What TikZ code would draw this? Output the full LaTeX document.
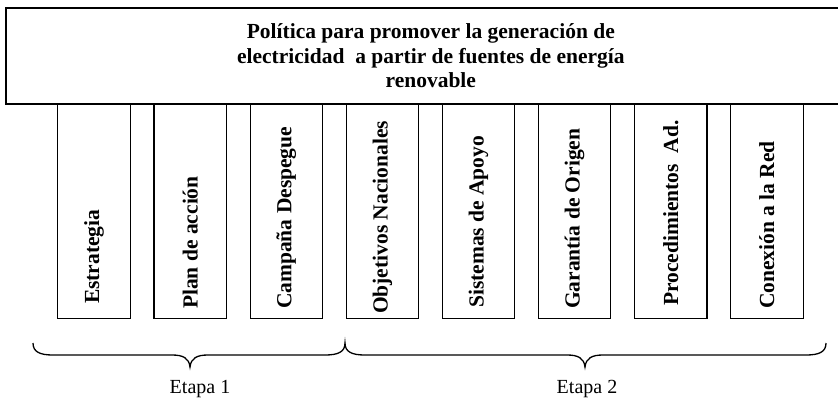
\documentclass[tikz,border=0pt]{standalone}
\usepackage{fontspec}
\setmainfont{Liberation Serif}
\begin{document}
\begin{tikzpicture}[x=1pt,y=-1pt,
  titlebox/.style={draw, line width=1.6pt, minimum width=850pt, minimum height=96pt,
    anchor=north west, inner sep=0pt, align=center,
    font=\fontsize{21.5}{24.5}\selectfont\bfseries},
  colbox/.style={draw, line width=1.1pt, minimum width=72.5pt, minimum height=215pt,
    anchor=north west, inner sep=0pt},
  coltext/.style={rotate=90, anchor=west, inner sep=0pt,
    font=\fontsize{21.5}{24}\selectfont\bfseries},
  stagelabel/.style={font=\fontsize{20}{24}\selectfont, anchor=base, inner sep=0pt},
  bracepath/.style={line width=1.3pt}]
\useasboundingbox (0,0) rectangle (838,400);
\begin{scope}
\clip (0,0) rectangle (838,400);
\node[titlebox] (title) at (5,7) {Política para promover la generación de\\electricidad~ a partir de fuentes de energía\\renovable};
\end{scope}
\node[colbox] (b1) at (57.3,103) {};
\node[colbox] (b2) at (153.4,103) {};
\node[colbox] (b3) at (249.5,103) {};
\node[colbox] (b4) at (345.6,103) {};
\node[colbox] (b5) at (441.7,103) {};
\node[colbox] (b6) at (537.8,103) {};
\node[colbox] (b7) at (633.9,103) {};
\node[colbox] (b8) at (730.0,103) {};
\node[coltext] (t1) at ([yshift=15pt]b1.south) {Estrategia};
\node[coltext] (t2) at ([yshift=10pt]b2.south) {Plan de acción};
\node[coltext] (t3) at ([yshift=10pt]b3.south) {Campaña Despegue};
\node[coltext] (t4) at ([yshift=5pt]b4.south) {Objetivos Nacionales};
\node[coltext] (t5) at ([yshift=11pt]b5.south) {Sistemas de Apoyo};
\node[coltext] (t6) at ([yshift=10pt]b6.south) {Garantía de Origen};
\node[coltext] (t7) at ([yshift=13pt]b7.south) {Procedimientos~ Ad.};
\node[coltext] (t8) at ([yshift=10pt]b8.south) {Conexión a la Red};
\draw[bracepath] (33,343) .. controls (33,352) and (40,355) .. (53,355) -- (172,355)
  .. controls (183,355) and (189,358) .. (190,367)
  .. controls (191,358) and (197,355) .. (208,355) -- (325,355)
  .. controls (338,355) and (345,352) .. (345,343)
  .. controls (345,352) and (352,355) .. (365,355) -- (567,355)
  .. controls (578,355) and (584,358) .. (585,367)
  .. controls (586,358) and (592,355) .. (603,355) -- (806,355)
  .. controls (819,355) and (826,352) .. (826,343);
\node[stagelabel] (e1) at (200,393) {Etapa 1};
\node[stagelabel] (e2) at (587,393) {Etapa 2};
\end{tikzpicture}
\end{document}
